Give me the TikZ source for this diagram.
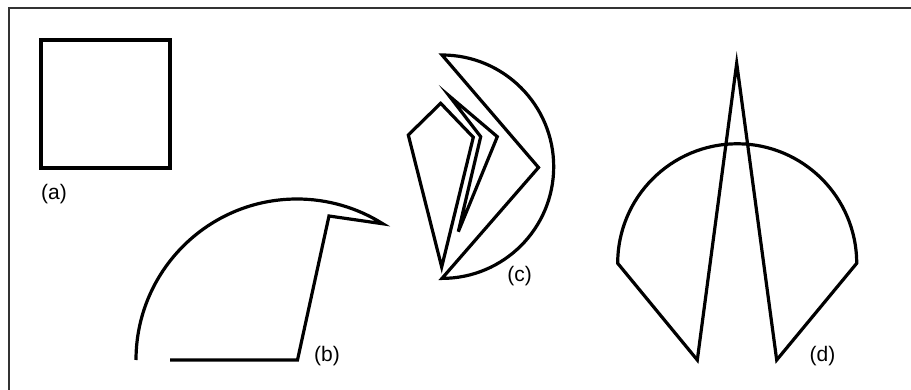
\documentclass[tikz,border=0pt]{standalone}
\usepackage{fontspec}
\setmainfont{Liberation Sans}
\begin{document}
\begin{tikzpicture}[x=1pt,y=-1pt,
  shape line/.style={line width=3.2pt,line join=miter},
  lbl/.style={font=\fontsize{21}{23}\selectfont,inner sep=0pt}]
\useasboundingbox (0,0) rectangle (911,390);
% frame
\draw[line width=1.8pt,draw=black!80] (9,396) -- (9,8) -- (920,8);
% (a)
\draw[shape line] (41,40) rectangle (170,168);
\node[lbl] (la) at (54,194) {(a)};
% (b) center (297,360), r 161
\draw[shape line] (136,360) arc[start angle=180,end angle=302.2,radius=161]
  -- (329,216) -- (297.5,360) -- (170,360);
\node[lbl] (lb) at (327,356) {(b)};
% (c) semicircle center (442.5,166.7) r 111.7
\draw[shape line] (442,55) arc[start angle=-90,end angle=90,radius=111.7]
  -- (538.5,167.5) -- cycle;
\draw[shape line] (408.3,135) -- (440.7,103.3) -- (473.3,137.3) -- (441.7,267) -- cycle;
\draw[shape line] (449.3,96) -- (497.3,136.7) -- (458.3,231.7) -- (480.7,136.7) -- cycle;
\node[lbl] (lc) at (519.5,276) {(c)};
% (d) semicircle center (737.2,263.3) r 119.5
\draw[shape line] (617.7,263.3) arc[start angle=180,end angle=360,radius=119.5]
  -- (776.7,360) -- (736.7,63.3) -- (697.3,360) -- cycle;
\node[lbl] (ld) at (822.5,356.5) {(d)};
\end{tikzpicture}
\end{document}
